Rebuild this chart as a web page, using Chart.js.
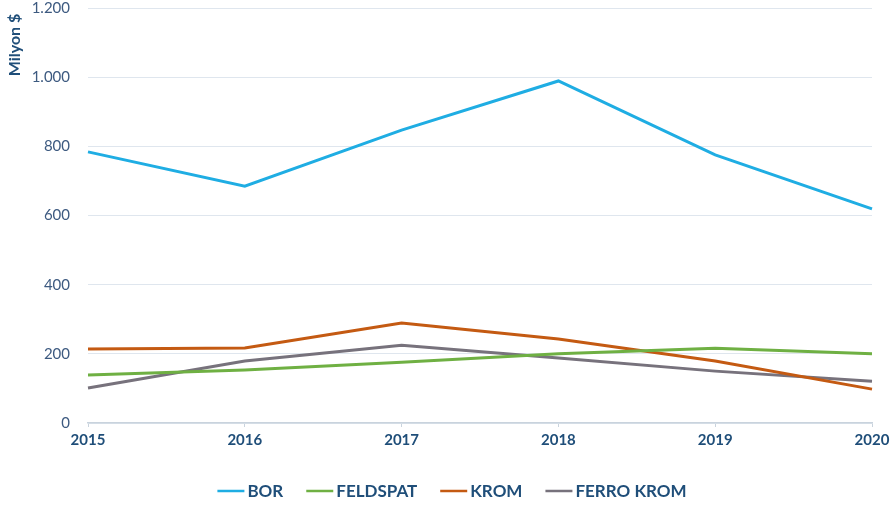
<!DOCTYPE html>
<html>
<head>
<meta charset="utf-8">
<script src="https://cdn.jsdelivr.net/npm/chart.js@4.4.1/dist/chart.umd.min.js"></script>
<style>
  html, body { margin: 0; padding: 0; background: #ffffff; }
  #wrap { width: 894px; height: 507px; position: relative; }
</style>
</head>
<body>
<div id="wrap"><canvas id="c" width="894" height="507"></canvas></div>
<script>
// Yıllar
const years = ['2015', '2016', '2017', '2018', '2019', '2020'];

// İhracat değerleri (milyon $)
const bor       = [784, 685, 847, 989, 775, 619];
const feldspat  = [139, 153, 176, 200, 216, 200];
const krom      = [214, 217, 289, 243, 179, 98];
const ferroKrom = [101, 179, 225, 188, 150, 121];

// Y ekseni etiketleri
const yTickValues = [0, 200, 400, 600, 800, 1000, 1200];
const yTickLabels = ['0', '200', '400', '600', '800', '1.000', '1.200'];
const yAxisTitle = 'Milyon $';

const navy = '#1f4e79';
const FONT = 'Lato, "Open Sans", sans-serif';

function series(label, data, color) {
  return {
    label, data,
    borderColor: color,
    backgroundColor: color,
    borderWidth: 3,
    pointRadius: 0,
    pointHoverRadius: 0,
    tension: 0,
    fill: false
  };
}

// Dikey eksen başlığı: sol üst köşeye döndürülmüş yazı
const axisTitlePlugin = {
  id: 'axisTitle',
  afterDraw(chart) {
    const ctx = chart.ctx;
    ctx.save();
    ctx.translate(15, chart.chartArea.top + 37);
    ctx.rotate(-Math.PI / 2);
    ctx.fillStyle = navy;
    ctx.font = 'bold 16px ' + FONT;
    ctx.textAlign = 'center';
    ctx.textBaseline = 'middle';
    ctx.fillText(yAxisTitle, 0, 0);
    ctx.restore();
  }
};

// Alt gösterge: kısa çizgi + kalın etiket, sayfa ortasında tek satır
const lineLegendPlugin = {
  id: 'lineLegend',
  afterDraw(chart) {
    const ctx = chart.ctx;
    const sets = chart.data.datasets;
    const markW = 27, markGap = 3, itemGap = 23;
    ctx.save();
    ctx.font = 'bold 17px ' + FONT;
    const widths = sets.map(d => markW + markGap + ctx.measureText(d.label).width);
    const total = widths.reduce((a, b) => a + b, 0) + itemGap * (sets.length - 1);
    let x = chart.width / 2 + 5 - total / 2;
    const y = chart.height - 16;
    ctx.textBaseline = 'middle';
    ctx.textAlign = 'left';
    sets.forEach((d, i) => {
      ctx.strokeStyle = d.borderColor;
      ctx.lineWidth = 2.5;
      ctx.beginPath();
      ctx.moveTo(x, y);
      ctx.lineTo(x + markW, y);
      ctx.stroke();
      ctx.fillStyle = navy;
      ctx.fillText(d.label, x + markW + markGap, y + 1);
      x += widths[i] + itemGap;
    });
    ctx.restore();
  }
};

new Chart(document.getElementById('c'), {
  type: 'line',
  data: {
    labels: years,
    datasets: [
      series('BOR', bor, '#1fade3'),
      series('FELDSPAT', feldspat, '#6fb043'),
      series('KROM', krom, '#c45a12'),
      series('FERRO KROM', ferroKrom, '#77727c')
    ]
  },
  plugins: [axisTitlePlugin, lineLegendPlugin],
  options: {
    responsive: false,
    animation: false,
    devicePixelRatio: 1,
    layout: { padding: { left: 0, right: 22, top: 8, bottom: 0 } },
    plugins: {
      tooltip: { enabled: false },
      legend: { display: false }
    },
    scales: {
      x: {
        offset: false,
        afterFit: (s) => { s.height = 84; },
        grid: { drawOnChartArea: false, drawTicks: true, tickLength: 4, color: '#c9d3dd' },
        border: { display: true, color: '#c9d3dd', width: 1.5 },
        ticks: {
          color: navy,
          padding: 4,
          maxRotation: 0,
          font: { family: FONT, size: 15, weight: 'bold' }
        }
      },
      y: {
        min: 0,
        max: 1200,
        afterFit: (s) => { s.width = 88; s.paddingTop = 0; s.paddingBottom = 0; },
        afterBuildTicks: (s) => { s.ticks = yTickValues.map(v => ({ value: v })); },
        grid: { color: '#dfe6ee', lineWidth: 1, drawTicks: false },
        border: { display: false },
        ticks: {
          color: '#3d5a80',
          padding: 18,
          font: { family: FONT, size: 15 },
          callback: (v) => yTickLabels[yTickValues.indexOf(v)]
        }
      }
    }
  }
});
</script>
</body>
</html>
